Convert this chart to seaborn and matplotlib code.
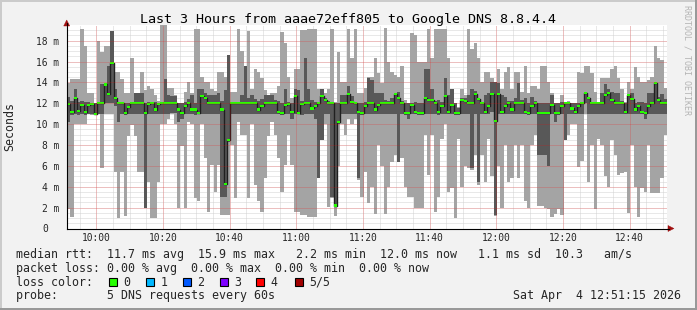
import numpy as np
import pandas as pd
import matplotlib
matplotlib.use("Agg")
import matplotlib.pyplot as plt
import seaborn as sns
from matplotlib.ticker import MultipleLocator
from matplotlib.transforms import Affine2D, ScaledTranslation
from matplotlib.patches import Rectangle, Polygon

# ---------------- data (ms), one value per minute, 09:51:15 -> 12:51:15 ----------------
rtt_max = [13.9,14.3,14.3,14.3,19.1,17.5,13.0,13.0,12.0,18.0,16.9,17.5,17.5,18.9,15.0,15.0,14.3,13.0,13.0,16.3,13.0,13.0,15.0,13.3,13.7,13.4,12.8,12.2,19.5,19.5,13.5,13.5,12.8,12.0,12.0,13.1,
           14.0,13.0,19.1,19.1,14.5,14.0,14.0,13.4,13.2,15.0,15.0,14.5,16.6,13.1,13.1,19.1,17.0,15.6,18.9,13.4,15.3,15.0,14.4,13.3,12.8,13.0,13.0,13.7,18.8,17.8,14.5,12.5,15.3,15.3,19.0,19.0,
           19.1,19.1,19.1,13.4,13.4,13.0,13.4,19.1,12.1,16.9,14.0,14.0,19.1,16.3,19.1,13.0,13.0,13.5,14.5,14.5,16.3,14.9,13.9,19.2,16.0,15.0,14.7,14.5,15.6,12.3,12.0,18.7,18.5,16.0,16.0,16.0,
           19.1,16.3,19.1,19.1,19.1,19.1,16.3,13.4,12.0,11.6,13.4,12.8,19.1,17.2,17.8,16.3,14.0,15.0,15.0,14.4,14.0,15.3,13.4,15.0,15.5,13.4,15.0,15.0,13.1,15.6,13.0,13.7,13.7,13.4,15.6,15.6,
           14.0,13.0,12.0,12.0,12.8,12.0,12.2,12.0,12.0,15.0,14.9,15.6,15.6,14.9,13.1,12.1,14.4,14.4,14.4,15.3,15.6,14.4,13.4,12.1,14.0,13.4,15.5,14.5,14.0,14.0,14.2,14.5,17.5,16.3,16.1,13.5]
rtt_p4 = [12.6,12.2,13.4,12.1,12.2,12.1,12.1,12.0,12.0,12.1,13.8,13.8,15.6,18.9,13.4,12.1,12.1,12.0,12.0,12.1,13.0,13.0,13.0,12.0,12.1,12.1,12.1,12.0,12.1,14.3,12.8,12.7,12.7,12.0,12.0,12.1,
          12.4,12.8,12.0,13.4,13.4,13.0,12.8,12.8,12.8,13.0,12.2,13.3,16.6,12.1,12.1,12.1,12.8,15.6,12.5,12.8,12.4,12.2,12.4,12.8,12.8,12.8,12.3,12.2,12.0,13.4,12.1,12.0,13.4,13.3,12.2,16.3,
          13.4,12.3,12.1,12.0,13.4,12.5,12.2,12.1,12.0,12.0,12.8,12.8,13.7,12.7,12.1,12.0,12.0,12.1,14.4,14.2,13.0,13.0,13.0,12.3,12.2,12.5,13.0,13.1,12.2,12.0,12.0,12.0,12.1,12.0,12.0,15.3,
          15.3,13.4,12.2,12.3,12.1,14.4,12.8,13.4,12.0,11.5,12.5,12.5,12.8,13.4,13.2,12.5,12.1,12.8,13.0,14.0,14.0,13.9,12.8,12.6,12.2,12.2,12.5,13.9,12.3,12.5,12.0,12.6,12.2,12.0,12.0,12.0,
          12.0,12.8,12.0,12.0,12.1,12.0,12.1,12.0,12.0,12.0,12.1,13.0,12.5,12.1,12.0,12.0,13.0,13.8,13.4,13.1,13.0,13.0,12.2,12.0,12.8,13.0,12.0,12.1,12.1,12.0,13.0,13.0,13.9,12.6,12.9,12.4]
rtt_median = [11.9,11.2,12.5,11.3,11.8,11.2,11.8,11.9,11.0,12.0,12.0,13.8,12.9,15.9,12.5,12.0,12.0,11.05,11.6,12.0,12.0,12.0,12.0,11.05,11.9,12.0,11.4,11.9,12.0,12.0,12.0,12.0,12.0,11.4,11.05,11.7,
              12.0,11.4,11.4,11.05,12.7,12.5,12.0,12.0,12.0,12.0,11.4,4.3,8.5,12.0,12.0,12.0,12.0,12.0,12.0,12.0,12.0,11.4,11.7,12.0,12.0,12.0,12.0,11.2,11.05,11.8,11.9,11.2,12.7,11.05,11.9,12.0,
              12.0,11.5,11.7,12.0,12.7,12.3,12.0,12.0,2.2,10.2,12.0,12.0,12.9,12.1,12.0,11.2,11.05,11.7,12.0,12.0,11.4,11.8,12.0,12.0,12.0,12.0,12.9,12.5,12.0,11.1,11.05,11.8,11.2,11.05,11.05,12.5,
              12.3,12.3,12.0,11.2,11.7,12.7,11.2,11.8,11.05,11.05,12.3,12.2,12.0,12.0,12.9,12.4,12.0,11.2,11.7,12.9,10.3,12.9,11.2,11.7,12.0,11.4,12.0,12.0,12.0,11.2,11.05,11.7,12.0,11.05,11.05,11.05,
              11.05,11.8,11.05,11.05,11.7,12.0,12.0,11.5,11.2,11.7,12.0,13.0,12.5,12.0,12.0,12.0,12.0,12.8,13.0,12.3,12.0,12.0,12.0,11.2,12.8,12.4,11.4,11.7,11.2,11.05,11.7,12.0,13.9,12.3,12.0,12.0]
rtt_p2 = [10.2,10.9,11.0,10.9,11.0,10.9,11.0,11.0,10.9,11.0,11.0,12.0,12.0,12.0,11.7,10.2,11.0,10.9,11.0,11.0,11.0,11.0,11.0,2.0,11.0,11.0,11.0,11.0,11.0,11.0,11.0,11.1,11.1,10.2,10.5,11.0,
          11.0,11.0,10.9,11.0,11.0,11.0,11.0,11.0,11.0,11.0,3.0,3.0,8.3,11.0,11.0,11.0,11.0,11.0,11.0,11.0,11.0,11.0,11.0,11.0,11.0,11.0,11.0,11.0,10.9,11.0,11.0,10.5,11.0,11.0,10.9,11.0,
          11.0,11.0,10.5,4.8,8.5,11.0,11.0,3.0,2.1,10.0,11.0,11.0,11.0,11.0,11.0,4.8,10.9,11.0,11.0,11.0,11.0,11.0,11.0,11.0,11.0,11.0,11.0,6.4,11.0,10.9,10.5,11.0,11.0,10.9,10.9,11.0,
          11.0,11.0,11.0,10.9,11.0,11.0,11.0,11.0,10.9,10.9,11.0,11.0,11.0,5.8,11.0,4.5,11.0,11.0,11.0,11.2,1.3,11.0,11.0,11.0,11.0,11.0,11.0,11.0,11.0,11.0,10.9,11.0,11.0,7.0,7.0,7.0,
          6.0,11.0,10.2,10.9,11.0,8.5,11.0,11.0,11.0,11.0,11.0,12.0,11.0,11.0,11.0,11.0,11.0,11.0,11.0,11.0,11.0,11.0,11.0,11.0,11.0,11.0,11.0,11.0,11.0,10.5,11.0,11.0,11.0,11.0,11.0,11.0]
rtt_min = [1.9,1.1,10.0,10.0,10.0,10.0,11.0,10.9,10.9,11.0,5.8,11.0,11.0,11.0,5.4,1.0,5.4,1.2,8.9,9.9,8.9,5.4,5.4,2.0,4.5,1.0,1.0,4.5,10.0,10.0,10.5,11.0,10.0,2.0,7.9,2.0,
           10.2,10.0,2.9,2.6,10.0,6.8,1.6,6.1,3.5,6.1,1.3,1.3,1.3,8.0,2.9,10.2,9.0,9.0,2.9,10.0,4.2,2.6,1.6,4.8,8.9,10.2,9.0,6.8,3.5,6.1,9.0,6.1,1.6,1.6,1.3,1.3,
           1.1,1.1,1.1,4.8,8.5,10.0,2.1,2.9,1.2,6.0,10.0,9.0,10.5,10.0,10.5,4.6,3.0,5.4,2.4,4.0,1.4,8.0,6.0,1.4,4.0,6.4,7.0,6.4,6.8,4.0,3.0,3.0,2.0,2.0,2.0,9.0,
           5.1,9.0,1.6,3.0,8.6,10.0,3.5,3.9,1.0,8.6,4.0,6.0,5.8,5.6,7.0,4.2,7.0,4.5,8.6,5.0,1.2,6.0,2.0,8.0,4.5,4.8,8.0,4.8,8.0,2.6,2.0,8.0,9.0,2.2,2.2,2.0,
           1.9,1.1,1.4,1.9,1.3,8.5,9.0,10.0,10.0,5.9,6.5,11.0,4.5,8.0,1.9,8.6,8.0,5.0,4.0,8.5,7.0,5.1,5.3,5.4,1.5,8.0,4.0,1.1,3.9,3.5,8.0,3.4,3.4,3.4,4.8,9.0]

start_offset_min = -8.75          # 09:51:15 relative to 10:00
span_min = 180
x_tick_labels = ["10:00", "10:20", "10:40", "11:00", "11:20", "11:40", "12:00", "12:20", "12:40"]
y_tick_values = [0, 2, 4, 6, 8, 10, 12, 14, 16, 18]
y_tick_labels = ["0", "2 m", "4 m", "6 m", "8 m", "10 m", "12 m", "14 m", "16 m", "18 m"]

title = "Last 3 Hours from aaae72eff805 to Google DNS 8.8.4.4"
legend_rows = [
    "median rtt:  11.7 ms avg  15.9 ms max   2.2 ms min  12.0 ms now   1.1 ms sd  10.3   am/s",
    "packet loss: 0.00 % avg  0.00 % max  0.00 % min  0.00 % now",
    "loss color:",
    "probe:       5 DNS requests every 60s",
]
loss_labels = ["0", "1", "2", "3", "4", "5/5"]
loss_colors = ["#26ff00", "#00b8ff", "#0059ff", "#7e00ff", "#ff0000", "#a10000"]
timestamp = "Sat Apr  4 12:51:15 2026"

# ---------------- figure ----------------
W, H = 697, 310
BG = "#f2f2f2"
sns.set_style("white")
plt.rcParams["font.family"] = ["DejaVu Sans Mono"]

fig = plt.figure(figsize=(W / 100, H / 100), dpi=100, facecolor=BG)
pix = Affine2D().scale(1 / W, -1 / H).translate(0, 1) + fig.transFigure

ax = fig.add_axes([67 / W, (H - 228.5) / H, 600 / W, 203.5 / H])
ax.set_facecolor("white")

n = len(rtt_median)
t = start_offset_min + np.arange(n)
mx, p4, md, p2, mn = map(np.asarray, (rtt_max, rtt_p4, rtt_median, rtt_p2, rtt_min))
x_lo, x_hi = start_offset_min, start_offset_min + span_min
y_lo, y_hi = 0, 19.5

# minor grid (under the data)
dot = (0, (1, 1))
ax.vlines(np.arange(np.ceil(x_lo / 5) * 5, x_hi, 5), y_lo, y_hi, colors="#d2d2d2",
          linestyles=dot, lw=0.72, zorder=0.5)
ax.hlines(np.arange(0.5, y_hi, 0.5), x_lo, x_hi, colors="#d2d2d2",
          linestyles=dot, lw=0.72, zorder=0.5)

# smoke
ax.bar(t, mx - mn, bottom=mn, width=1.0, align="edge", color="#a4a4a4", lw=0, zorder=1)
ax.bar(t, p4 - p2, bottom=p2, width=1.0, align="edge", color="#585858", lw=0, zorder=1.1)

# median line (steps)
df = pd.DataFrame({"t": np.append(t, t[-1] + 1), "median": np.append(md, md[-1])})
sns.lineplot(data=df, x="t", y="median", drawstyle="steps-post", color="#202020",
             lw=1.0, ax=ax, zorder=1.2)
# loss-coloured band around median
sw = 0.1
ax.bar(t, 2 * sw, bottom=md - sw, width=1.0, align="edge", color=loss_colors[0], lw=0, zorder=1.3)

ax.set_xlim(x_lo, x_hi)
ax.set_ylim(y_lo, y_hi)
ax.set_xlabel("")
ax.set_ylabel("")

def lab2min(s):
    h, m = s.split(":")
    return (int(h) - 10) * 60 + int(m)

ax.set_xticks([lab2min(s) for s in x_tick_labels], labels=x_tick_labels)
ax.xaxis.set_minor_locator(MultipleLocator(5))
ax.set_yticks(y_tick_values, labels=y_tick_labels)
ax.yaxis.set_minor_locator(MultipleLocator(0.5))

# major grid on top (semi-transparent red)
ax.set_axisbelow(False)
ax.grid(which="major", color="#ff0000", alpha=0.35, linestyle=dot, lw=0.72)

ax.tick_params(axis="x", which="major", direction="out", length=1.5, width=0.72,
               color="#e89090", pad=2.0, labelsize=6.9)
ax.tick_params(axis="x", which="minor", direction="out", length=1.5, width=0.72, color="#c8c8c8")
ax.tick_params(axis="y", which="major", direction="out", length=1.5, width=0.72,
               color="#e89090", pad=4.0, labelsize=6.9)
ax.tick_params(axis="y", which="minor", direction="out", length=1.5, width=0.72, color="#c8c8c8")

# align "0" with the number part of "18 m"
lbl0 = ax.get_yticklabels()[0]
lbl0.set_transform(lbl0.get_transform() + ScaledTranslation(-11.5 / 100, 0, fig.dpi_scale_trans))

for s in ("top", "right"):
    ax.spines[s].set_visible(False)
for s in ("left", "bottom"):
    ax.spines[s].set_color("#000000")
    ax.spines[s].set_linewidth(0.8)
    ax.spines[s].set_zorder(3)

# axis arrows
fig.add_artist(plt.Line2D([667, 669], [228.5, 228.5], transform=pix, color="black", lw=0.8))
fig.add_artist(plt.Line2D([66.7, 66.7], [25, 23], transform=pix, color="black", lw=0.8))
fig.add_artist(Polygon([[668, 225.5], [668, 231.5], [674, 228.5]], closed=True,
                       transform=pix, fc="#a01010", ec="#a01010", lw=0.3))
fig.add_artist(Polygon([[63.7, 26], [69.7, 26], [66.7, 20]], closed=True,
                       transform=pix, fc="#a01010", ec="#a01010", lw=0.3))

# texts
fig.text(348, 19, title, transform=pix, ha="center", va="center", fontsize=9.6, color="black")
fig.text(10, 126.5, "Seconds", transform=pix, ha="center", va="center", rotation=90, fontsize=8.4)
fig.text(687, 60, "RRDTOOL / TOBI OETIKER", transform=pix, ha="center", va="center",
         rotation=270, fontsize=6.0, color="#b4b4b4")

row_y = [254.3, 268.3, 282.3, 296.0]
for txt, y in zip(legend_rows, row_y):
    fig.text(16, y, txt, transform=pix, ha="left", va="center", fontsize=8.4)
fig.text(681, row_y[3], timestamp, transform=pix, ha="right", va="center", fontsize=8.4)

box_x = [108.7, 145.7, 182.7, 219.5, 256.3, 295.0]
for bx, c, lab in zip(box_x, loss_colors, loss_labels):
    fig.add_artist(Rectangle((bx, row_y[2] - 4), 8, 8, transform=pix, fc=c, ec="black", lw=0.8))
    fig.text(bx + 14.5, row_y[2], lab, transform=pix, ha="left", va="center", fontsize=8.4)

# 3D border
fig.add_artist(Rectangle((0, 0), W, 2, transform=pix, fc="#cbcbcb", ec="none"))
fig.add_artist(Rectangle((0, 0), 2, H, transform=pix, fc="#cbcbcb", ec="none"))
fig.add_artist(Rectangle((0, H - 2.5), W, 2.5, transform=pix, fc="#999999", ec="none"))
fig.add_artist(Rectangle((W - 2.5, 0), 2.5, H, transform=pix, fc="#999999", ec="none"))

fig.savefig("out.png", dpi=100, facecolor=BG)
